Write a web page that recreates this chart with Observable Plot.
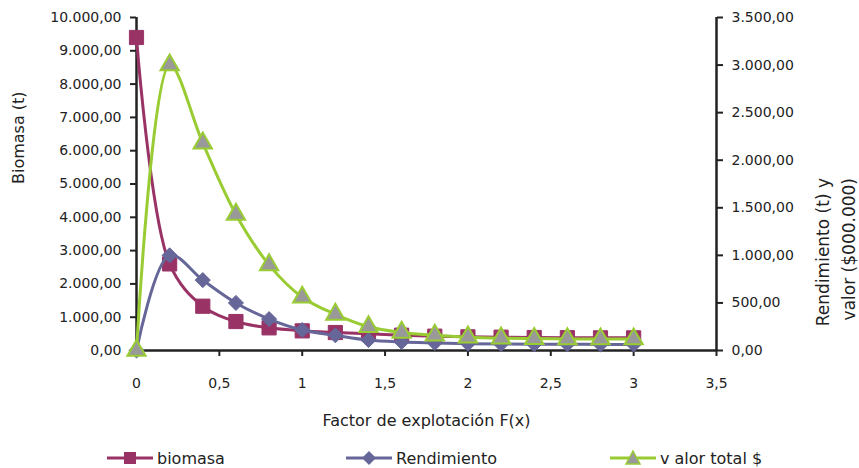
<!DOCTYPE html>
<html>
<head>
<meta charset="utf-8">
<script src="https://cdn.jsdelivr.net/npm/d3@7"></script>
<script src="https://cdn.jsdelivr.net/npm/@observablehq/plot@0.6"></script>
<style>
  html, body { margin: 0; padding: 0; background: #fff; }
  #wrap { position: relative; width: 859px; height: 468px; font-family: "DejaVu Sans", sans-serif; color: #222; }
  #legend { position: absolute; left: 0; top: 446px; width: 859px; height: 24px; font-size: 16px; }
  .item { position: absolute; top: 0; display: flex; align-items: center; height: 24px; }
  .item svg { margin-right: 4px; }
</style>
</head>
<body>
<div id="wrap"><div id="chart"></div><div id="legend"></div></div>
<script>
// ---- data ----
const factor      = [0, 0.2, 0.4, 0.6, 0.8, 1.0, 1.2, 1.4, 1.6, 1.8, 2.0, 2.2, 2.4, 2.6, 2.8, 3.0];
const biomasa     = [9400, 2600, 1330, 870, 680, 590, 540, 500, 460, 430, 410, 400, 390, 385, 380, 380];
const rendimiento = [0, 1000, 740, 500, 330, 215, 160, 110, 90, 80, 72, 68, 66, 65, 64, 64];
const valorTotal  = [0, 3000, 2180, 1430, 900, 560, 380, 250, 190, 160, 140, 130, 125, 122, 120, 120];
const seriesNames = ["biomasa", "Rendimiento", "v alor total $"];
const leftTicks   = [0, 1000, 2000, 3000, 4000, 5000, 6000, 7000, 8000, 9000, 10000];
const rightTicks  = [0, 500, 1000, 1500, 2000, 2500, 3000, 3500];
const xTicks      = [0, 0.5, 1, 1.5, 2, 2.5, 3, 3.5];
const leftTitle   = "Biomasa (t)";
const rightTitle  = ["Rendimiento (t) y", "valor ($000.000)"];
const xTitle      = "Factor de explotación F(x)";

// ---- build ----
const K = 10000 / 3500; // right axis -> left axis
const loc = d3.formatLocale({decimal: ",", thousands: ".", grouping: [3], currency: ["$", ""]});
const fmt2 = loc.format(",.2f");
const fmtX = d => loc.format("")(d);

const bio = factor.map((x, i) => ({x, y: biomasa[i]}));
const ren = factor.map((x, i) => ({x, y: rendimiento[i] * K}));
const val = factor.map((x, i) => ({x, y: valorTotal[i] * K}));

const C_BIO = "#993366", C_REN = "#666699", C_VAL = "#99CC33", C_TRI = "#999999";
const AX = "#222";

const chart = Plot.plot({
  width: 859, height: 440,
  marginLeft: 136, marginRight: 143, marginTop: 17, marginBottom: 90,
  style: {fontFamily: "DejaVu Sans, sans-serif", fontSize: "14px", color: "#222", background: "#fff"},
  x: {domain: [0, 3.5], axis: null},
  y: {domain: [0, 10000], axis: null},
  marks: [
    Plot.axisX(xTicks, {anchor: "bottom", tickSize: 6, tickPadding: 22, tickFormat: fmtX, label: null, stroke: AX, strokeWidth: 2, fontSize: 14}),
    Plot.axisY(leftTicks, {anchor: "left", tickSize: 6, tickPadding: 9, tickFormat: fmt2, label: null, stroke: AX, strokeWidth: 2, fontSize: 14}),
    Plot.axisY(rightTicks.map(v => v * K), {anchor: "right", tickSize: 6, tickPadding: 9, tickFormat: d => fmt2(Math.round(d / K)), label: null, stroke: AX, strokeWidth: 2, fontSize: 14}),
    Plot.ruleX([0], {y1: 0, y2: 10000, stroke: AX, strokeWidth: 2.5}),
    Plot.ruleX([3.5], {y1: 0, y2: 10000, stroke: AX, strokeWidth: 2.5}),
    Plot.ruleY([0], {x1: 0, x2: 3.5, stroke: AX, strokeWidth: 2.5}),
    // biomasa
    Plot.line(bio, {x: "x", y: "y", stroke: C_BIO, strokeWidth: 3, curve: "catmull-rom"}),
    Plot.dot(bio, {x: "x", y: "y", symbol: "square", r: 8, fill: C_BIO, stroke: C_BIO, strokeWidth: 1}),
    // rendimiento
    Plot.line(ren, {x: "x", y: "y", stroke: C_REN, strokeWidth: 3, curve: "catmull-rom"}),
    Plot.dot(ren, {x: "x", y: "y", symbol: "diamond2", r: 6.8, fill: C_REN, stroke: C_REN, strokeWidth: 1}),
    // valor total
    Plot.line(val, {x: "x", y: "y", stroke: C_VAL, strokeWidth: 3, curve: "catmull-rom"}),
    Plot.dot(val, {x: "x", y: "y", symbol: "triangle", r: 6.8, fill: C_TRI, stroke: C_VAL, strokeWidth: 2}),
    // titles
    Plot.text([leftTitle], {frameAnchor: "left", dx: -118, rotate: -90, fontSize: 16, fill: "#222"}),
    Plot.text([rightTitle[0]], {frameAnchor: "right", dx: 107, dy: -6, rotate: -90, fontSize: 17, fill: "#222"}),
    Plot.text([rightTitle[1]], {frameAnchor: "right", dx: 133, dy: -6, rotate: -90, fontSize: 17, fill: "#222"}),
    Plot.text([xTitle], {frameAnchor: "bottom", dy: 75, fontSize: 16, fill: "#222"})
  ]
});
document.getElementById("chart").appendChild(chart);

// ---- legend ----
const legendDefs = [
  {name: seriesNames[0], color: C_BIO, left: 107, shape: "square"},
  {name: seriesNames[1], color: C_REN, left: 346, shape: "diamond"},
  {name: seriesNames[2], color: C_VAL, left: 610, shape: "triangle"}
];
const lg = document.getElementById("legend");
for (const d of legendDefs) {
  const item = document.createElement("div");
  item.className = "item";
  item.style.left = d.left + "px";
  let sym;
  if (d.shape === "square") sym = `<rect x="17" y="6" width="12" height="12" fill="${d.color}"/>`;
  else if (d.shape === "diamond") sym = `<path d="M23,5 L30,12 L23,19 L16,12Z" fill="${d.color}"/>`;
  else sym = `<path d="M23,5 L30,18 L16,18Z" fill="${C_TRI}" stroke="${d.color}" stroke-width="1.5"/>`;
  item.innerHTML = `<svg width="46" height="24"><line x1="0" x2="46" y1="12" y2="12" stroke="${d.color}" stroke-width="3"/>${sym}</svg><span>${d.name}</span>`;
  lg.appendChild(item);
}
</script>
</body>
</html>
